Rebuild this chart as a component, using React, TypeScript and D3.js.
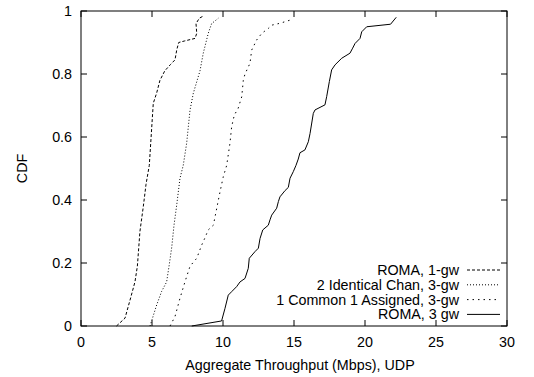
import React from "react";
import * as d3 from "d3";

const roma1gwX = [2.5, 3.1, 3.5, 3.8, 3.97, 4.15, 4.39, 4.58, 4.81, 4.98, 5.09, 5.33, 5.56, 5.9, 6.3, 6.62, 6.74, 6.88, 7.3, 8.03, 8.15, 8.1, 8.33, 8.61];
const roma1gwY = [0, 0.025, 0.09, 0.14, 0.19, 0.3, 0.38, 0.45, 0.51, 0.63, 0.707, 0.74, 0.78, 0.81, 0.83, 0.845, 0.876, 0.9, 0.905, 0.913, 0.929, 0.96, 0.977, 0.984];

const identX = [4.86, 5.33, 5.68, 6.03, 6.2, 6.39, 6.55, 6.74, 6.97, 7.2, 7.44, 7.68, 7.91, 8.38, 8.61, 8.96, 9.2, 9.67];
const identY = [0, 0.067, 0.11, 0.14, 0.19, 0.25, 0.32, 0.384, 0.469, 0.51, 0.58, 0.686, 0.739, 0.81, 0.866, 0.929, 0.96, 0.977];

const commonX = [6.27, 6.62, 6.97, 7.32, 7.68, 8.15, 8.5, 8.73, 8.96, 9.32, 9.56, 9.79, 10.02, 10.26, 10.49, 10.61, 10.8, 11.06, 11.32, 11.43, 11.55, 11.9, 12.02, 12.37, 12.73, 13.2, 13.43, 14.01, 14.72];
const commonY = [0, 0.03, 0.088, 0.14, 0.19, 0.215, 0.257, 0.28, 0.305, 0.32, 0.374, 0.426, 0.474, 0.51, 0.58, 0.633, 0.67, 0.69, 0.728, 0.78, 0.8, 0.834, 0.876, 0.908, 0.929, 0.945, 0.955, 0.961, 0.971];

const roma3gwX = [7.8, 9.9, 10.14, 10.37, 10.61, 10.96, 11.2, 11.55, 11.78, 11.85, 12.25, 12.49, 12.61, 12.8, 13.19, 13.31, 13.43, 13.78, 13.9, 14.01, 14.37, 14.6, 14.72, 14.95, 15.14, 15.3, 15.42, 15.77, 16.01, 16.13, 16.36, 16.48, 17.18, 17.3, 17.49, 17.65, 17.89, 18.36, 18.94, 19.13, 19.3, 19.65, 19.77, 20.12, 21.8, 22.2];
const roma3gwY = [0, 0.016, 0.056, 0.098, 0.109, 0.125, 0.14, 0.151, 0.183, 0.215, 0.236, 0.247, 0.278, 0.305, 0.32, 0.337, 0.352, 0.374, 0.395, 0.41, 0.43, 0.44, 0.469, 0.49, 0.51, 0.53, 0.55, 0.559, 0.585, 0.611, 0.675, 0.686, 0.702, 0.728, 0.776, 0.813, 0.829, 0.85, 0.866, 0.882, 0.897, 0.913, 0.934, 0.95, 0.958, 0.98];

const seriesNames = ["ROMA, 1-gw", "2 Identical Chan, 3-gw", "1 Common 1 Assigned, 3-gw", "ROMA, 3 gw"];
const xTicks = [0, 5, 10, 15, 20, 25, 30];
const yTicks = [0, 0.2, 0.4, 0.6, 0.8, 1];
const yTickLabels = ["0", "0.2", "0.4", "0.6", "0.8", "1"];
const xTitle = "Aggregate Throughput (Mbps), UDP";
const yTitle = "CDF";

const W = 534, H = 377;
const L = 81, R = 507, T = 11, B = 326;
const FONT = "'Liberation Sans', Arial, sans-serif";
const FS = 14.3;

export default function App() {
  const x = d3.scaleLinear().domain([0, 30]).range([L, R]);
  const y = d3.scaleLinear().domain([0, 1]).range([B, T]);
  const line = d3.line<[number, number]>().x(d => x(d[0])).y(d => y(d[1]));
  const series = [
    { xs: roma1gwX, ys: roma1gwY, dash: "3,2" },
    { xs: identX, ys: identY, dash: "1,2" },
    { xs: commonX, ys: commonY, dash: "1.5,4" },
    { xs: roma3gwX, ys: roma3gwY, dash: "none" },
  ];
  const tl = 6;
  const legendTextX = 459;
  const legendLineX1 = 467;
  const legendLineX2 = 500;
  const legendY0 = 270;
  const legendDy = 14.8;
  return (
    <svg width={W} height={H} style={{ position: "absolute", left: 0, top: 0, background: "#fff" }} fontFamily={FONT}>
      <rect x={0} y={0} width={W} height={H} fill="#fff" />
      {xTicks.map(t => (
        <g key={"x" + t}>
          <line x1={x(t)} x2={x(t)} y1={B} y2={B - tl} stroke="#000" strokeWidth={1} />
          <line x1={x(t)} x2={x(t)} y1={T} y2={T + tl} stroke="#000" strokeWidth={1} />
          <text x={x(t)} y={341.5} fontSize={FS} textAnchor="middle" dominantBaseline="central">{t}</text>
        </g>
      ))}
      {yTicks.map((t, i) => (
        <g key={"y" + t}>
          <line x1={L} x2={L + tl} y1={y(t)} y2={y(t)} stroke="#000" strokeWidth={1} />
          <line x1={R} x2={R - tl} y1={y(t)} y2={y(t)} stroke="#000" strokeWidth={1} />
          <text x={72} y={y(t)} fontSize={FS} textAnchor="end" dominantBaseline="central">{yTickLabels[i]}</text>
        </g>
      ))}
      {series.map((s, i) => (
        <path key={"s" + i} d={line(s.xs.map((v, j) => [v, s.ys[j]] as [number, number])) || ""} fill="none" stroke="#000" strokeWidth={1} strokeDasharray={s.dash} />
      ))}
      {seriesNames.map((n, i) => (
        <g key={"l" + i}>
          <text x={legendTextX} y={legendY0 + i * legendDy} fontSize={FS} textAnchor="end" dominantBaseline="central">{n}</text>
          <line x1={legendLineX1} x2={legendLineX2} y1={legendY0 + i * legendDy} y2={legendY0 + i * legendDy} stroke="#000" strokeWidth={1} strokeDasharray={series[i].dash} />
        </g>
      ))}
      <rect x={L} y={T} width={R - L} height={B - T} fill="none" stroke="#000" strokeWidth={1} />
      <text x={(L + R) / 2 + 6} y={365} fontSize={FS} textAnchor="middle" dominantBaseline="central">{xTitle}</text>
      <text transform={`translate(22,${(T + B) / 2}) rotate(-90)`} fontSize={FS} textAnchor="middle" dominantBaseline="central">{yTitle}</text>
    </svg>
  );
}
